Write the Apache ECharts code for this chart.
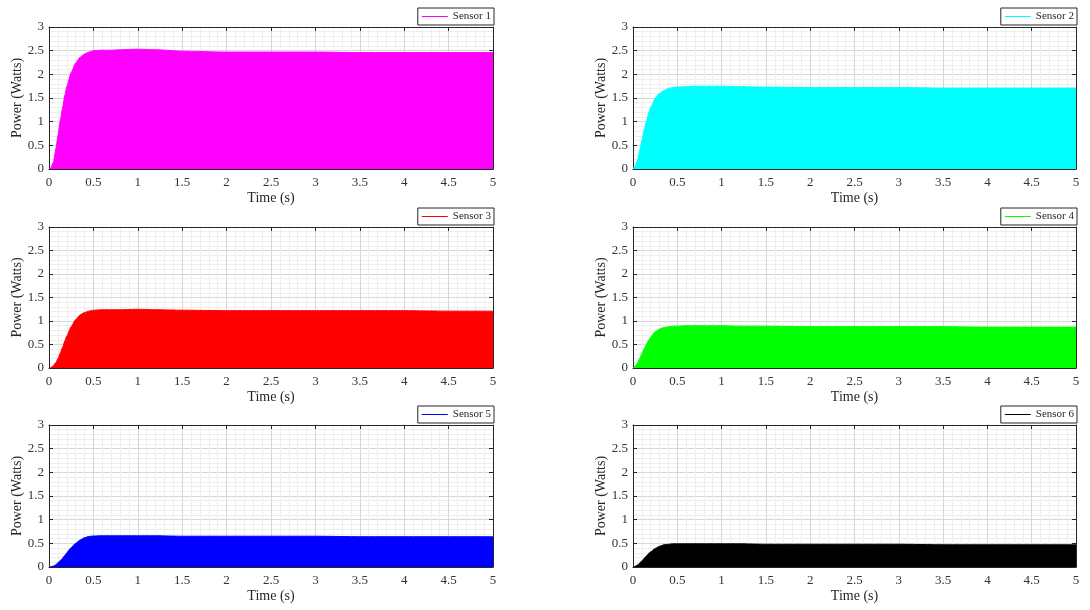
<!DOCTYPE html>
<html><head><meta charset="utf-8">
<script src="https://cdn.jsdelivr.net/npm/echarts@6/dist/echarts.min.js"></script>
<style>html,body{margin:0;padding:0;background:#fff}#c{width:1090px;height:610px}</style>
</head><body><div id="c"></div>
<script>
const T = [0,0.02,0.05,0.08,0.1,0.13,0.15,0.18,0.2,0.25,0.3,0.35,0.4,0.45,0.5,0.6,0.7,0.8,1,1.2,1.5,2,2.5,3,3.5,4,4.5,5];
const sensor1 = [0,0.02,0.14,0.45,0.7,1.05,1.27,1.57,1.74,2.04,2.24,2.36,2.43,2.47,2.5,2.51,2.51,2.52,2.53,2.52,2.49,2.47,2.47,2.47,2.46,2.46,2.46,2.46];
const sensor2 = [0,0.05,0.18,0.42,0.6,0.85,1.0,1.2,1.3,1.49,1.6,1.66,1.7,1.72,1.73,1.74,1.75,1.75,1.75,1.74,1.73,1.72,1.72,1.72,1.71,1.71,1.71,1.71];
const sensor3 = [0,0.01,0.05,0.12,0.2,0.33,0.43,0.58,0.68,0.88,1.03,1.13,1.18,1.21,1.23,1.24,1.24,1.24,1.25,1.24,1.23,1.22,1.22,1.22,1.22,1.22,1.21,1.21];
const sensor4 = [0,0.03,0.1,0.22,0.3,0.42,0.5,0.6,0.66,0.77,0.83,0.86,0.88,0.89,0.89,0.9,0.9,0.9,0.9,0.89,0.89,0.88,0.88,0.88,0.88,0.87,0.87,0.87];
const sensor5 = [0,0.005,0.02,0.05,0.09,0.14,0.18,0.25,0.3,0.41,0.5,0.57,0.62,0.645,0.655,0.66,0.66,0.66,0.66,0.66,0.65,0.65,0.65,0.65,0.64,0.64,0.64,0.64];
const sensor6 = [0,0.01,0.04,0.09,0.13,0.19,0.23,0.29,0.32,0.39,0.44,0.47,0.48,0.49,0.49,0.49,0.49,0.49,0.49,0.49,0.48,0.48,0.48,0.48,0.47,0.47,0.47,0.47];
const names = ['Sensor 1','Sensor 2','Sensor 3','Sensor 4','Sensor 5','Sensor 6'];
const colors = ['#ff00ff','#00ffff','#ff0000','#00ff00','#0000ff','#000000'];
const values = [sensor1,sensor2,sensor3,sensor4,sensor5,sensor6];
const xLabel = 'Time (s)', yLabel = 'Power (Watts)';
const xMin = 0, xMax = 5, xStep = 0.5, yMin = 0, yMax = 3, yStep = 0.5;

const FONT = 'Liberation Serif';
const AX = '#262626';
const lefts = [49, 633], widths = [444, 443];
const tops = [27, 227, 425], heights = [142, 141, 142];

function baseAxis(i) {
  return {
    gridIndex: i, type: 'value',
    axisLine: {show: true, onZero: false, lineStyle: {color: AX, width: 1}},
    axisTick: {show: true, inside: true, length: 4, lineStyle: {color: AX}},
    minorTick: {show: false, splitNumber: 5}
  };
}
const grid = [], xAxis = [], yAxis = [], series = [], legend = [];
for (let i = 0; i < 6; i++) {
  const col = i % 2, row = Math.floor(i / 2);
  grid.push({left: lefts[col], top: tops[row], width: widths[col], height: heights[row], containLabel: false});
  xAxis.push(Object.assign(baseAxis(i), {
    position: 'bottom', min: xMin, max: xMax, interval: xStep,
    axisLabel: {show: true, margin: 7, color: '#333', fontFamily: FONT, fontSize: 13},
    splitLine: {show: true, lineStyle: {color: '#d6d6d6', width: 1}},
    minorSplitLine: {show: true, lineStyle: {color: '#eeeeee', width: 1}},
    name: xLabel, nameLocation: 'middle', nameGap: 22,
    nameTextStyle: {color: '#262626', fontFamily: FONT, fontSize: 14}
  }));
  xAxis.push(Object.assign(baseAxis(i), {
    position: 'top', min: xMin, max: xMax, interval: xStep,
    axisLabel: {show: false}, splitLine: {show: false}
  }));
  yAxis.push(Object.assign(baseAxis(i), {
    position: 'left', min: yMin, max: yMax, interval: yStep,
    axisLabel: {show: true, margin: 5, color: '#333', fontFamily: FONT, fontSize: 13},
    splitLine: {show: true, lineStyle: {color: '#d6d6d6', width: 1}},
    minorSplitLine: {show: true, lineStyle: {color: '#eeeeee', width: 1}},
    name: yLabel, nameLocation: 'middle', nameGap: 25,
    nameTextStyle: {color: '#262626', fontFamily: FONT, fontSize: 14}
  }));
  yAxis.push(Object.assign(baseAxis(i), {
    position: 'right', min: yMin, max: yMax, interval: yStep,
    axisLabel: {show: false}, splitLine: {show: false}
  }));
  series.push({
    name: names[i], type: 'line', xAxisIndex: 2 * i, yAxisIndex: 2 * i,
    data: T.map((t, k) => [t, values[i][k]]),
    symbol: 'none', smooth: 0.2, smoothMonotone: 'x',
    lineStyle: {color: colors[i], width: 1},
    itemStyle: {color: colors[i]},
    areaStyle: {color: colors[i], opacity: 1},
    silent: true, animation: false, z: 3
  });
  legend.push({
    data: [{name: names[i], icon: 'rect'}],
    right: col === 0 ? 1090 - 494 : 1090 - 1077,
    top: tops[row] - 19,
    orient: 'horizontal',
    itemWidth: 26, itemHeight: 1,
    padding: [3, 3, 3, 4],
    borderColor: AX, borderWidth: 1, backgroundColor: '#fff',
    textStyle: {color: '#262626', fontFamily: FONT, fontSize: 11},
    selectedMode: false
  });
}
const chart = echarts.init(document.getElementById('c'), null, {renderer: 'canvas'});
chart.setOption({animation: false, backgroundColor: '#fff', grid, xAxis, yAxis, series, legend});
</script></body></html>
